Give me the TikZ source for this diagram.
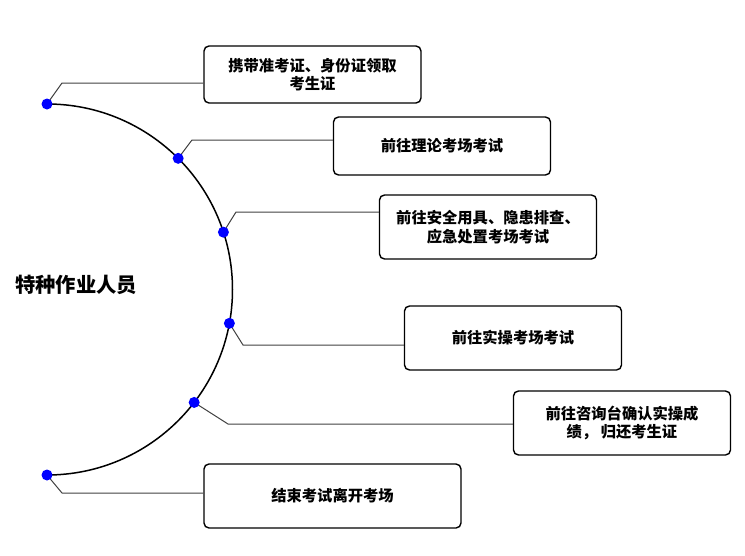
\documentclass[tikz,border=0pt]{standalone}
\usepackage{fontspec}
\newfontfamily\cjk{Noto Sans CJK SC}
\begin{document}
\begin{tikzpicture}[x=1pt, y=-1pt, every node/.style={align=center, font=\cjk\bfseries\fontsize{15.3}{18.5}\selectfont}]
\tikzset{
  taskbox/.style={draw=black, line width=1.4pt, rounded corners=5pt, inner sep=2pt, minimum width=217pt, minimum height=64pt},
  dot/.style={circle, fill=blue, inner sep=0pt, minimum size=11pt},
  link/.style={draw=black!75, line width=1pt}
}
\useasboundingbox (0,0) rectangle (745,555);

% Centre and arc
\coordinate (c) at (47,289.5);
\node[font=\cjk\bfseries\fontsize{20.3}{22}\selectfont, anchor=west, inner sep=0pt] (who) at (15,285) {特种作业人员};
\draw[line width=1.5pt] ([shift={(-90:185.5)}]c) arc[start angle=-90, end angle=90, radius=185.5];

% Steps (right)
\node[taskbox, minimum height=57pt] (b1) at (312.5,74.5) {携带准考证、身份证领取\\考生证};
\node[taskbox, minimum height=58pt] (b2) at (442,146) {前往理论考场考试};
\node[taskbox] (b3) at (488,227) {前往安全用具、隐患排查、\\应急处置考场考试};
\node[taskbox] (b4) at (513,338) {前往实操考场考试};
\node[taskbox] (b5) at (622,423) {前往咨询台确认实操成\\绩，\ 归还考生证};
\node[taskbox, minimum width=257pt] (b6) at (332.5,496) {结束考试离开考场};

% Points on the arc
\coordinate (d1) at ([shift={(-90:185.5)}]c);
\coordinate (d2) at ([shift={(-45:185.5)}]c);
\coordinate (d3) at ([shift={(-18:185.5)}]c);
\coordinate (d4) at ([shift={(10.5:185.5)}]c);
\coordinate (d5) at ([shift={(37.5:185.5)}]c);
\coordinate (d6) at ([shift={(90:185.5)}]c);

\coordinate (k1) at (62,83);
\coordinate (k2) at (192,140);
\coordinate (k3) at (236,212);
\coordinate (k4) at (243,345);
\coordinate (k5) at (228,424);
\coordinate (k6) at (62,493);

% Connectors
\foreach \i in {1,...,6} {
  \draw[link] (d\i) -- (k\i) -- (k\i -| b\i.west);
  \node[dot] (p\i) at (d\i) {};
}

\end{tikzpicture}
\end{document}
